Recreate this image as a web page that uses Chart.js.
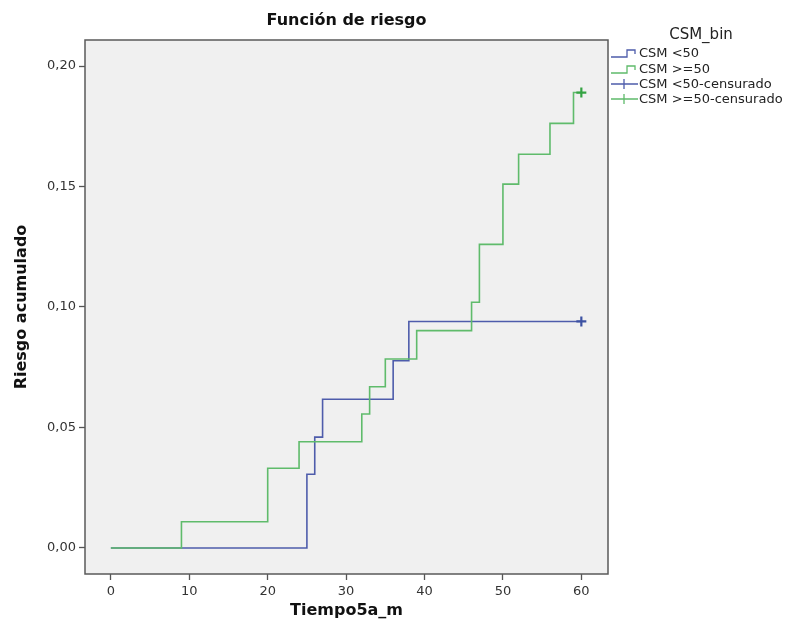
<!DOCTYPE html>
<html>
<head>
<meta charset="utf-8">
<title>Función de riesgo</title>
<script src="https://cdn.jsdelivr.net/npm/chart.js@4.4.0/dist/chart.umd.min.js"></script>
<style>
  html, body { margin: 0; padding: 0; background: #fff; }
  #wrap { width: 790px; height: 634px; }
</style>
</head>
<body>
<div id="wrap"><canvas id="chart" width="790" height="634"></canvas></div>
<script>
// Función de riesgo - cumulative hazard by CSM_bin

// CSM <50
const timeLow = [0, 25, 26, 27, 36, 38, 60];
const riskLow = [0, 0.0306, 0.0460, 0.0617, 0.0777, 0.0940, 0.0940];

// CSM >=50
const timeHigh = [0, 9, 20, 24, 32, 33, 35, 39, 46, 47, 50, 52, 56, 59, 60];
const riskHigh = [0, 0.0109, 0.0331, 0.0441, 0.0556, 0.0669, 0.0784, 0.0902, 0.1020, 0.1260, 0.1510, 0.1634, 0.1762, 0.1890, 0.1890];

// censored observations
const censorLowTime = [60];
const censorLowRisk = [0.0940];
const censorHighTime = [60];
const censorHighRisk = [0.1890];

// axes
const xTicks = [0, 10, 20, 30, 40, 50, 60];
const yTicks = [0, 0.05, 0.10, 0.15, 0.20];

const legendLabels = ['CSM <50', 'CSM >=50', 'CSM <50-censurado', 'CSM >=50-censurado'];

const BLUE = '#4e5cab';
const GREEN = '#5fbb6b';
const BLUE_MARK = '#3d52a3';
const GREEN_MARK = '#35a343';
const FONT = '"DejaVu Sans", sans-serif';

function toPoints(xs, ys) {
  return xs.map((x, i) => ({ x, y: ys[i] }));
}

// grey plot box with frame
const plotFrame = {
  id: 'plotFrame',
  beforeDraw(chart) {
    const { ctx, chartArea: a } = chart;
    ctx.save();
    ctx.fillStyle = '#f0f0f0';
    ctx.fillRect(a.left, a.top, a.right - a.left, a.bottom - a.top);
    ctx.restore();
  },
  afterDraw(chart) {
    const { ctx, chartArea: a } = chart;
    ctx.save();
    ctx.strokeStyle = '#5a5a5a';
    ctx.lineWidth = 1.5;
    ctx.strokeRect(a.left, a.top, a.right - a.left, a.bottom - a.top);
    ctx.restore();
  }
};

// SPSS-like legend on the right
const sideLegend = {
  id: 'sideLegend',
  afterDraw(chart) {
    const ctx = chart.ctx;
    const x0 = 611;
    const rows = [53, 69, 84, 99];
    const colors = [BLUE, GREEN, BLUE, GREEN];
    ctx.save();
    ctx.fillStyle = '#222';
    ctx.textBaseline = 'middle';
    ctx.font = '15px ' + FONT;
    ctx.textAlign = 'center';
    ctx.fillText('CSM_bin', 701, 35);
    ctx.textAlign = 'left';
    ctx.font = '13px ' + FONT;
    rows.forEach((y, i) => {
      ctx.strokeStyle = colors[i];
      ctx.lineWidth = 1.3;
      ctx.beginPath();
      if (i < 2) {
        ctx.moveTo(x0, y + 4);
        ctx.lineTo(x0 + 16, y + 4);
        ctx.lineTo(x0 + 16, y - 3);
        ctx.lineTo(x0 + 24, y - 3);
        ctx.lineTo(x0 + 24, y + 1);
      } else {
        ctx.moveTo(x0, y);
        ctx.lineTo(x0 + 27, y);
        ctx.moveTo(x0 + 13, y - 5);
        ctx.lineTo(x0 + 13, y + 5);
      }
      ctx.stroke();
      ctx.fillStyle = '#222';
      ctx.fillText(legendLabels[i], x0 + 28, y + 1);
    });
    ctx.restore();
  }
};

const ctx = document.getElementById('chart').getContext('2d');

new Chart(ctx, {
  type: 'scatter',
  data: {
    datasets: [
      {
        label: legendLabels[1],
        data: toPoints(timeHigh, riskHigh),
        showLine: true,
        stepped: 'before',
        borderColor: GREEN,
        borderWidth: 1.6,
        pointRadius: 0,
        order: 1
      },
      {
        label: legendLabels[0],
        data: toPoints(timeLow, riskLow),
        showLine: true,
        stepped: 'before',
        borderColor: BLUE,
        borderWidth: 1.6,
        pointRadius: 0,
        order: 2
      },
      {
        label: legendLabels[3],
        data: toPoints(censorHighTime, censorHighRisk),
        pointStyle: 'cross',
        pointRadius: 5,
        borderColor: GREEN_MARK,
        borderWidth: 2.2,
        order: 0
      },
      {
        label: legendLabels[2],
        data: toPoints(censorLowTime, censorLowRisk),
        pointStyle: 'cross',
        pointRadius: 5,
        borderColor: BLUE_MARK,
        borderWidth: 2.2,
        order: 0
      }
    ]
  },
  options: {
    responsive: false,
    animation: false,
    layout: { padding: { left: 0, right: 182, top: 0, bottom: 0 } },
    plugins: {
      legend: { display: false },
      tooltip: { enabled: false },
      title: {
        display: true,
        text: 'Función de riesgo',
        fullSize: false,
        color: '#111',
        font: { family: FONT, size: 16, weight: 'bold', lineHeight: 1.2 },
        padding: { top: 11, bottom: 9.8 }
      }
    },
    scales: {
      x: {
        type: 'linear',
        min: -3.3,
        max: 63.4,
        afterFit(s) { s.height = 60; },
        afterBuildTicks(s) { s.ticks = xTicks.map(v => ({ value: v })); },
        border: { display: false },
        grid: { drawOnChartArea: false, drawTicks: true, tickLength: 6, tickColor: '#555', tickWidth: 1.3 },
        ticks: { color: '#333', padding: 4, font: { family: FONT, size: 13 }, maxRotation: 0 },
        title: {
          display: true,
          text: 'Tiempo5a_m',
          color: '#111',
          font: { family: FONT, size: 16, weight: 'bold', lineHeight: 1.2 },
          padding: { top: 0, bottom: 14 }
        }
      },
      y: {
        type: 'linear',
        min: -0.0108,
        max: 0.2108,
        afterFit(s) { s.width = 85; },
        afterBuildTicks(s) { s.ticks = yTicks.map(v => ({ value: v })); },
        border: { display: false },
        grid: { drawOnChartArea: false, drawTicks: true, tickLength: 6, tickColor: '#555', tickWidth: 1.3 },
        ticks: {
          color: '#333',
          padding: 3,
          font: { family: FONT, size: 13 },
          callback: v => v.toFixed(2).replace('.', ',')
        },
        title: {
          display: true,
          text: 'Riesgo acumulado',
          color: '#111',
          font: { family: FONT, size: 16, weight: 'bold', lineHeight: 1.2 },
          padding: { top: 12, bottom: 0 }
        }
      }
    }
  },
  plugins: [plotFrame, sideLegend]
});
</script>
</body>
</html>
